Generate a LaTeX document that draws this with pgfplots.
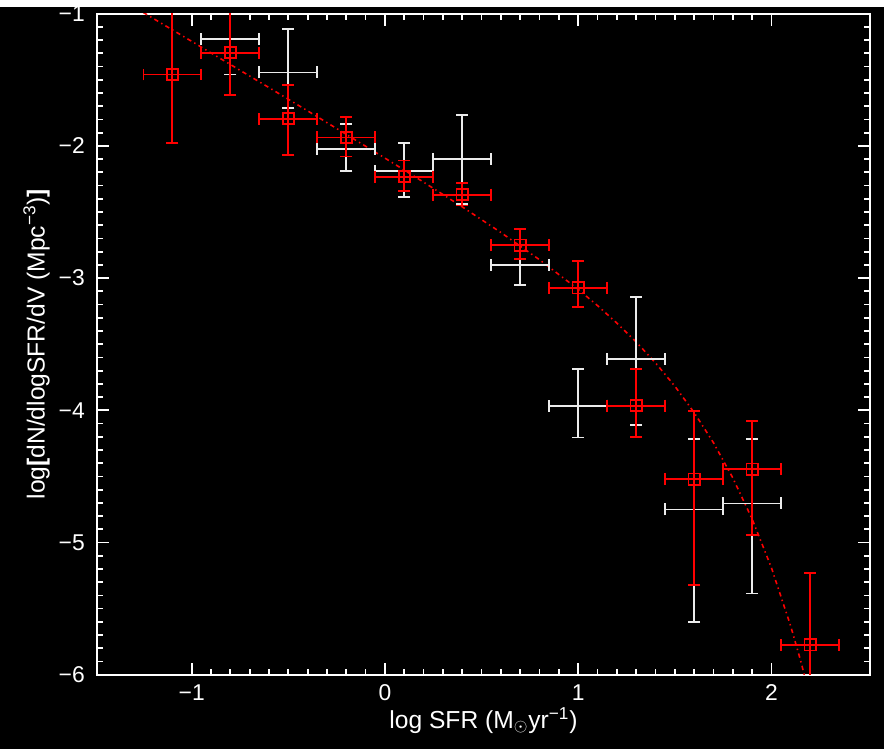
\documentclass[border=0pt]{standalone}
\usepackage{pgfplots}
\pgfplotsset{compat=1.18}
\usepackage{pgfplotstable}
\usepackage{fontspec}
\setmainfont{Liberation Sans}

\definecolor{barwhite}{RGB}{235,235,235}

% red: measured points (x, y, x error, y error up, y error down)
\pgfplotstableread{
x     y       ex    ep     em
-1.1  -1.460  0.15  0.520  0.520
-0.8  -1.295  0.15  0.320  0.320
-0.5  -1.794  0.15  0.257  0.273
-0.2  -1.936  0.15  0.156  0.144
 0.1  -2.233  0.15  0.123  0.107
 0.4  -2.369  0.15  0.091  0.081
 0.7  -2.750  0.15  0.120  0.105
 1.0  -3.073  0.15  0.202  0.146
 1.3  -3.965  0.15  0.277  0.235
 1.6  -4.520  0.15  0.517  0.804
 1.9  -4.444  0.15  0.363  0.499
 2.2  -5.775  0.15  0.542  0.450
}\redpts

% white: comparison points
\pgfplotstableread{
x     y       ex    ep     em
-0.8  -1.190  0.15  0.270  0.270
-0.5  -1.444  0.15  0.331  0.272
-0.2  -2.024  0.15  0.190  0.164
 0.1  -2.188  0.15  0.212  0.196
 0.4  -2.100  0.15  0.336  0.340
 0.7  -2.900  0.15  0.150  0.150
 1.0  -3.965  0.15  0.277  0.240
 1.3  -3.612  0.15  0.469  0.499
 1.6  -4.750  0.15  0.533  0.850
 1.9  -4.704  0.15  0.487  0.681
}\whitepts

% fitted luminosity-function curve
\pgfplotstableread{
x      y
-1.25  -0.991
-1.20  -1.035
-1.00  -1.209
-0.80  -1.384
-0.60  -1.559
-0.40  -1.735
-0.20  -1.913
 0.00  -2.092
 0.20  -2.274
 0.40  -2.461
 0.60  -2.655
 0.80  -2.861
 1.00  -3.085
 1.10  -3.208
 1.20  -3.340
 1.30  -3.483
 1.40  -3.641
 1.50  -3.817
 1.60  -4.017
 1.70  -4.245
 1.80  -4.511
 1.90  -4.822
 2.00  -5.191
 2.10  -5.634
 2.15  -5.888
 2.20  -6.169
}\fitcurve

\begin{document}
\begin{tikzpicture}
\fill[black] (0,0) rectangle (17.68cm,14.84cm);
\begin{axis}[
  at={(1.94cm,1.48cm)}, anchor=south west,
  width=15.46cm, height=13.22cm, scale only axis,
  xmin=-1.49, xmax=2.51, ymin=-6, ymax=-1,
  axis line style={white, line width=1.1pt},
  every tick/.style={white, line width=1pt},
  major tick length=0.24cm, minor tick length=0.12cm,
  minor tick num=9,
  tick pos=both, ticklabel pos=left,
  xtick={-1,0,1,2}, xticklabels={−1,0,1,2},
  ytick={-6,-5,-4,-3,-2,-1}, yticklabels={−6,−5,−4,−3,−2,−1},
  tick label style={white, font=\fontsize{13}{15}\selectfont},
  xticklabel style={yshift=-0.08cm},
  yticklabel style={xshift=-0.12cm},
  label style={white, font=\fontsize{14}{16}\selectfont},
  xlabel={log SFR (M$_{\odot}$yr\textsuperscript{−1})},
  ylabel={log\textbf{[}dN/dlogSFR/dV (Mpc\textsuperscript{−3})\textbf{]}},
  xlabel style={yshift=0.12cm},
  ylabel style={yshift=-0.06cm},
  clip=true,
  errbars/.style={
    error bars/.cd, x dir=both, x explicit, y dir=both, y explicit,
    error bar style={draw=#1, solid, line width=1pt},
    error mark options={draw=#1, rotate=90, line width=1pt, mark size=3.4pt}},
]
\addplot[red, line width=0.9pt, dash pattern=on 2.5pt off 2pt on 0.8pt off 2pt, no marks]
  table[x=x, y=y] {\fitcurve};
\addplot[draw=none, mark=none, errbars=barwhite]
  table[x=x, y=y, x error=ex, y error plus=ep, y error minus=em] {\whitepts};
\addplot[red, line width=1pt, only marks, mark=square, mark size=3.2pt,
  mark options={solid, line width=1pt}, errbars=red]
  table[x=x, y=y, x error=ex, y error plus=ep, y error minus=em] {\redpts};
\end{axis}
\end{tikzpicture}
\end{document}
